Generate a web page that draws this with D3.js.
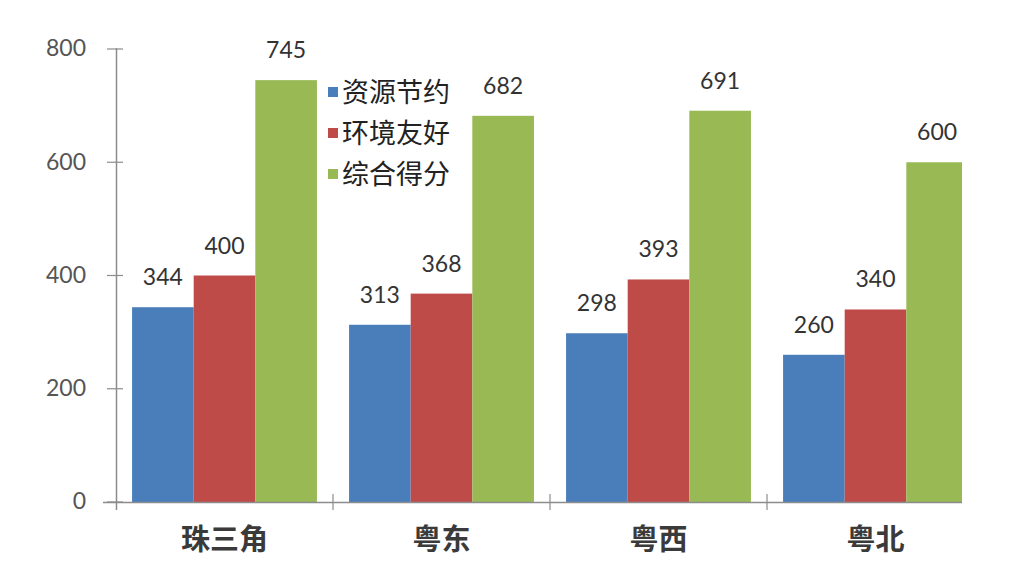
<!DOCTYPE html>
<html>
<head>
<meta charset="utf-8">
<script src="https://cdn.jsdelivr.net/npm/d3@7"></script>
<style>
  html, body { margin: 0; padding: 0; background: #fff; }
  svg { display: block; }
</style>
</head>
<body>
<svg id="chart" width="1016" height="570"></svg>
<script>
const categories = ["珠三角", "粤东", "粤西", "粤北"];
const seriesNames = ["资源节约", "环境友好", "综合得分"];
const resourceSaving = [344, 313, 298, 260];
const envFriendly = [400, 368, 393, 340];
const totalScore = [745, 682, 691, 600];
const yTicks = [0, 200, 400, 600, 800];
const colors = ["#4a7ebb", "#be4b48", "#98b954"];

(function () {
const seriesValues = [resourceSaving, envFriendly, totalScore];
const data = categories.map((c, i) => ({
  cat: c,
  vals: seriesValues.map((s, j) => ({ key: seriesNames[j], v: s[i], j }))
}));

const svg = d3.select("#chart");
const pLeft = 116, pRight = 984, clipRight = 962, pTop = 49, pBottom = 502;

const y = d3.scaleLinear().domain([0, 800]).range([pBottom, pTop]);
const x0 = d3.scaleBand().domain(categories).range([pLeft, pRight]).paddingInner(0.148).paddingOuter(0.074);
const x1 = d3.scaleBand().domain(seriesNames).range([0, x0.bandwidth()]);

const numFont = "Lato, 'Open Sans', sans-serif";
const cjkFont = "'Noto Sans CJK SC', sans-serif";

svg.append("defs").append("clipPath").attr("id", "plotclip")
  .append("rect").attr("x", pLeft).attr("y", 0).attr("width", clipRight - pLeft).attr("height", 570);

// bars
const plot = svg.append("g").attr("clip-path", "url(#plotclip)");
const groups = plot.selectAll("g.grp").data(data).join("g")
  .attr("transform", d => `translate(${x0(d.cat)},0)`);
groups.selectAll("rect").data(d => d.vals).join("rect")
  .attr("x", d => x1(d.key))
  .attr("width", x1.bandwidth())
  .attr("y", d => y(d.v))
  .attr("height", d => y(0) - y(d.v))
  .attr("fill", d => colors[d.j]);

// value labels
const lg = svg.append("g");
data.forEach(d => {
  d.vals.forEach(v => {
    lg.append("text")
      .attr("x", x0(d.cat) + x1(v.key) + x1.bandwidth() / 2)
      .attr("y", y(v.v) - 22)
      .attr("text-anchor", "middle")
      .attr("font-family", numFont)
      .attr("font-size", 23)
      .attr("fill", "#333")
      .text(v.v);
  });
});

// y axis
const axisColor = "#8c8c8c";
svg.append("line").attr("x1", pLeft + 0.5).attr("x2", pLeft + 0.5)
  .attr("y1", pTop - 1).attr("y2", pBottom + 8)
  .attr("stroke", axisColor).attr("stroke-width", 1.5);
yTicks.forEach(t => {
  svg.append("line").attr("x1", pLeft - 9).attr("x2", pLeft + 7)
    .attr("y1", y(t)).attr("y2", y(t))
    .attr("stroke", axisColor).attr("stroke-width", 1.2);
  svg.append("text").attr("x", 86).attr("y", y(t) - 1)
    .attr("dy", "0.36em")
    .attr("text-anchor", "end")
    .attr("font-family", numFont)
    .attr("font-size", 23)
    .attr("fill", "#555")
    .text(t);
});

// x axis
svg.append("line").attr("x1", pLeft - 13).attr("x2", clipRight)
  .attr("y1", pBottom + 0.5).attr("y2", pBottom + 0.5)
  .attr("stroke", axisColor).attr("stroke-width", 1.5);
categories.forEach((c, i) => {
  const bx = pLeft + i * (pRight - pLeft) / categories.length;
  if (i > 0) {
    svg.append("line").attr("x1", bx).attr("x2", bx)
      .attr("y1", pBottom - 8).attr("y2", pBottom + 8)
      .attr("stroke", axisColor).attr("stroke-width", 1.2);
  }
  svg.append("text")
    .attr("x", x0(c) + x0.bandwidth() / 2)
    .attr("y", 540)
    .attr("dy", "0.36em")
    .attr("text-anchor", "middle")
    .attr("font-family", cjkFont)
    .attr("font-weight", "bold")
    .attr("font-size", 29)
    .attr("fill", "#3a3a3a")
    .text(c);
});

// legend
const legend = svg.append("g");
seriesNames.forEach((n, i) => {
  const cy = 92 + i * 41;
  legend.append("rect").attr("x", 328).attr("y", cy - 5).attr("width", 10).attr("height", 10)
    .attr("fill", colors[i]);
  legend.append("text").attr("x", 342).attr("y", cy)
    .attr("dy", "0.36em")
    .attr("font-family", cjkFont)
    .attr("font-size", 27)
    .attr("fill", "#222")
    .text(n);
});
})();
</script>
</body>
</html>
